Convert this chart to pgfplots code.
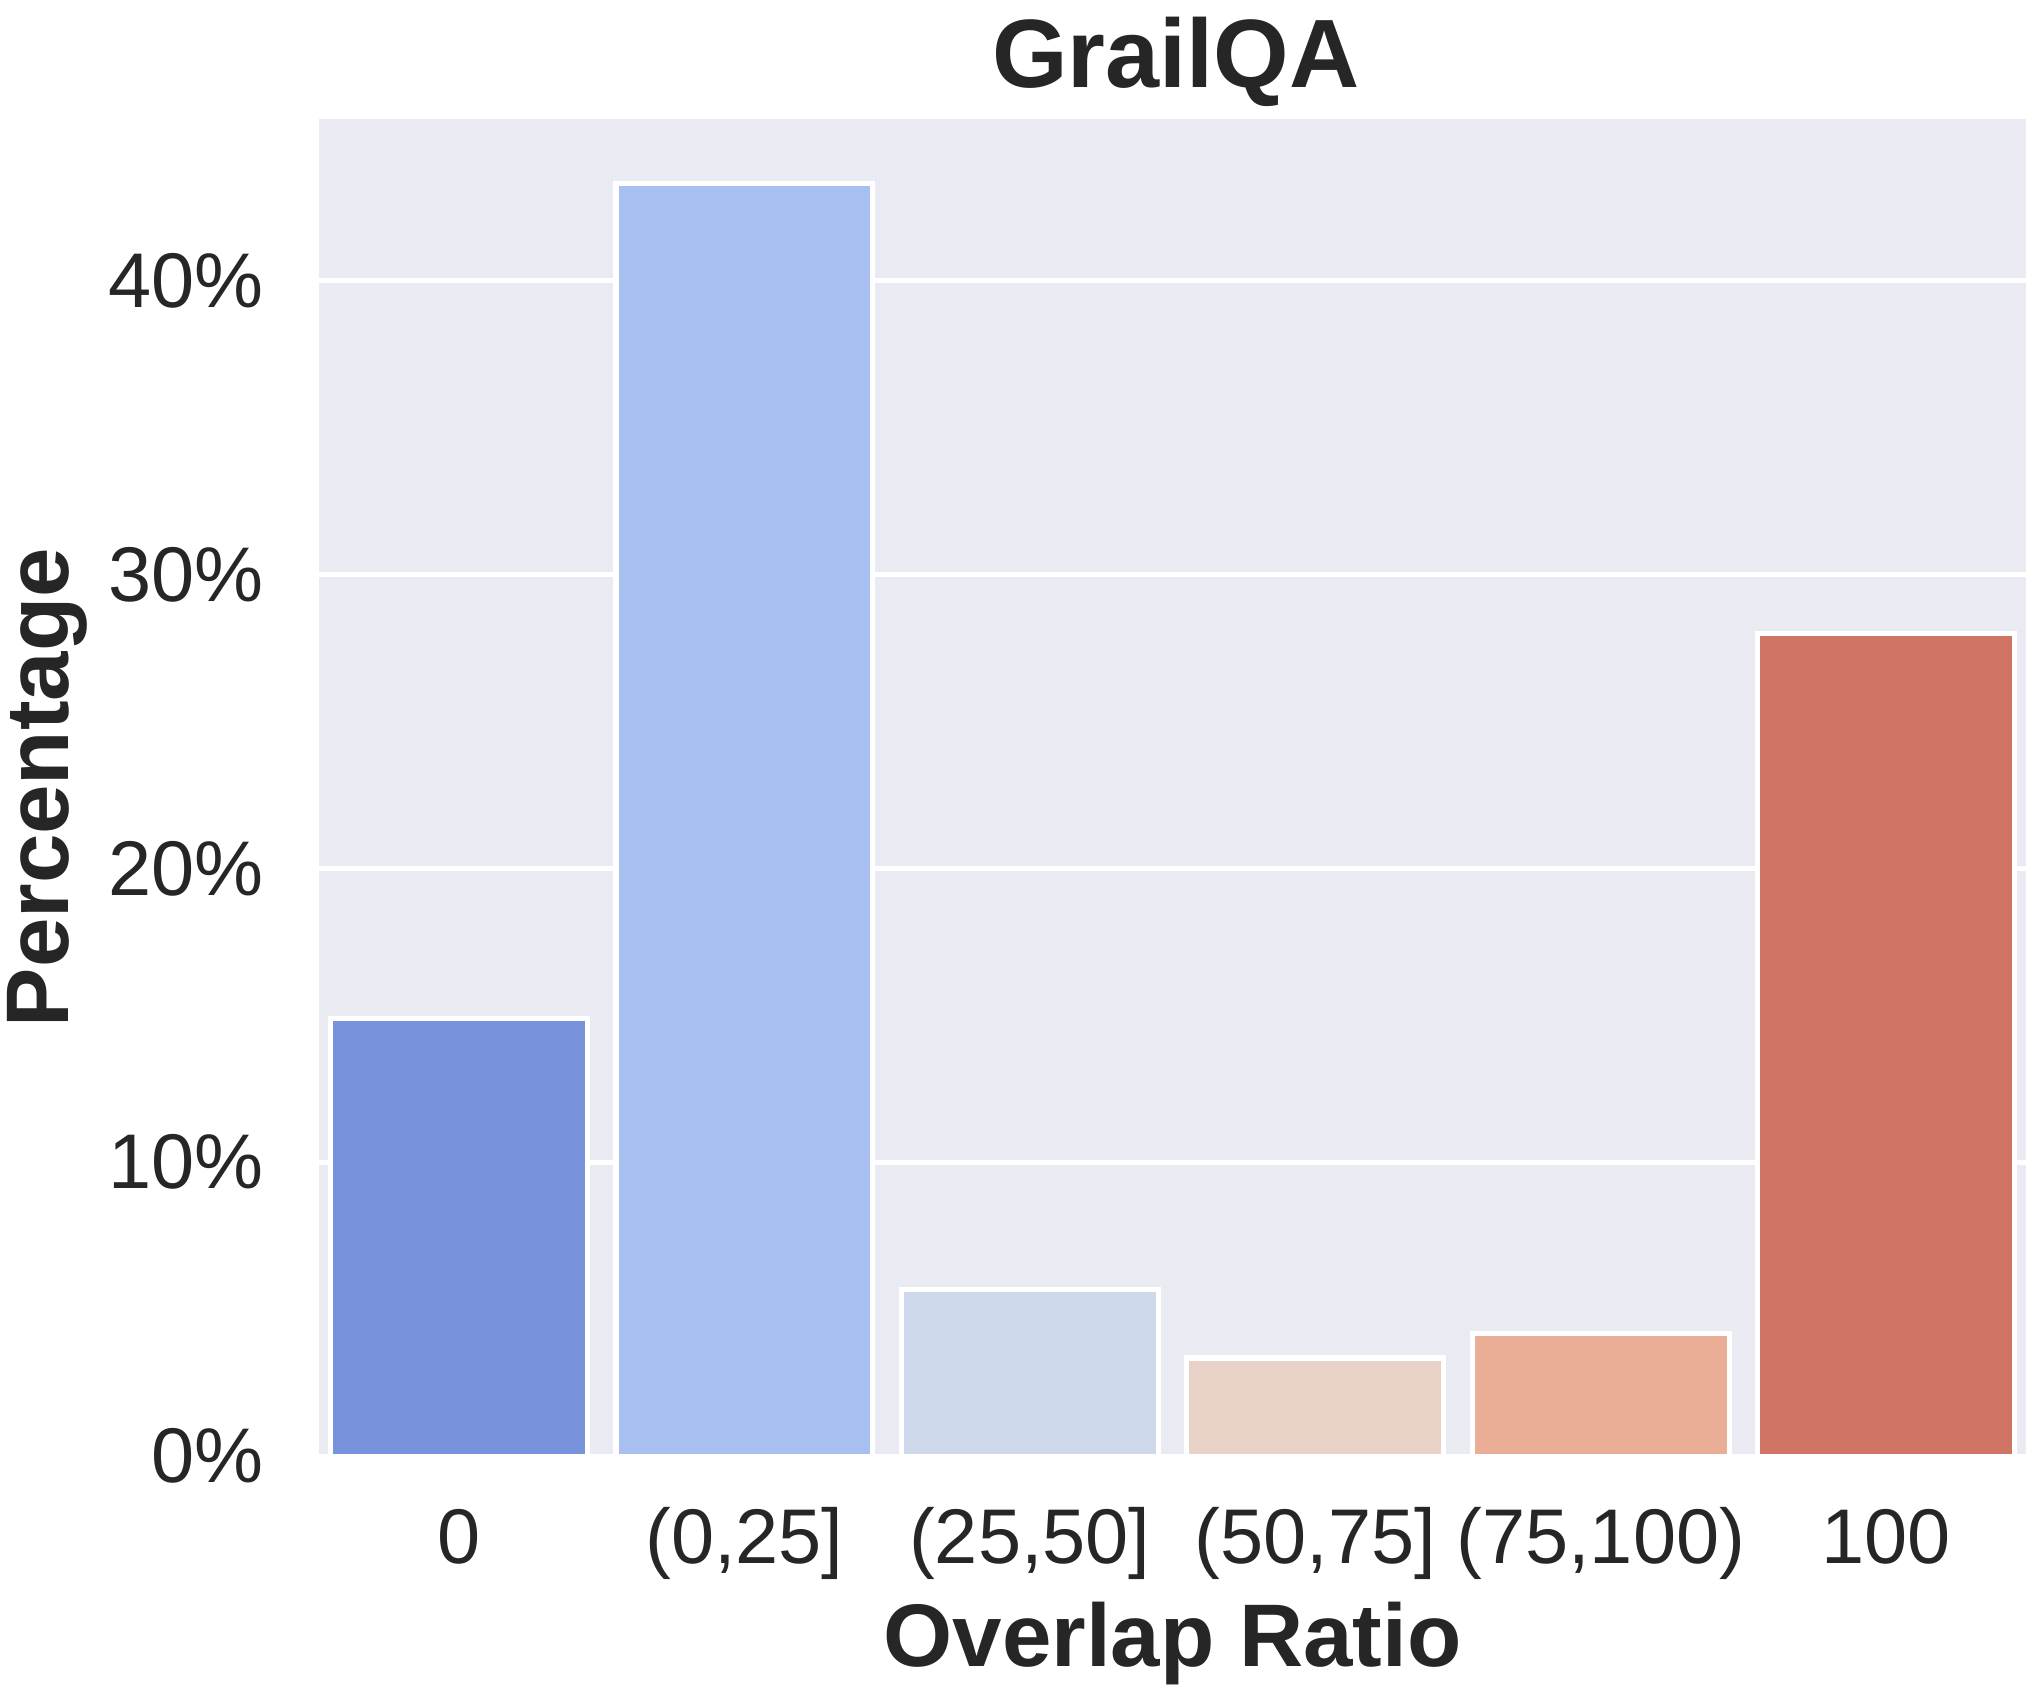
\documentclass[border=0pt]{standalone}
\usepackage{fontspec}
\setmainfont{Liberation Sans}
\usepackage{pgfplots}
\pgfplotsset{compat=1.18}
\definecolor{bgc}{RGB}{234,234,242}
\definecolor{txt}{RGB}{38,38,38}
\definecolor{c0}{RGB}{120,146,219}
\definecolor{c1}{RGB}{167,192,241}
\definecolor{c2}{RGB}{205,216,234}
\definecolor{c3}{RGB}{232,210,199}
\definecolor{c4}{RGB}{234,174,151}
\definecolor{c5}{RGB}{208,117,99}
\begin{document}
\begin{tikzpicture}
\begin{axis}[
  scale only axis,
  width=330.25pt, height=258.75pt,
  xmin=-0.49, xmax=5.49, ymin=0, ymax=45.5,
  axis background/.style={fill=bgc},
  axis line style={draw=none},
  major tick length=0pt,
  ymajorgrids, grid style={white, line width=1pt},
  ytick={0,10,20,30,40},
  yticklabels={0\%,10\%,20\%,30\%,40\%},
  xtick={0,1,2,3,4,5},
  xticklabels={0,{(0,25]},{(25,50]},{(50,75]},{(75,100)},100},
  yticklabel style={anchor=east, inner sep=0pt, xshift=-10.5pt, font=\fontsize{15}{18}\selectfont, text=txt},
  xticklabel style={anchor=base, inner sep=0pt, yshift=-20.75pt, font=\fontsize{15}{18}\selectfont, text=txt},
  xlabel={Overlap Ratio},
  ylabel={Percentage},
  xlabel style={at={(axis description cs:0.5,-0.1575)}, anchor=base, inner sep=0pt, font=\bfseries\fontsize{17.2}{20}\selectfont, text=txt},
  ylabel style={at={(axis description cs:-0.1832,0.5)}, rotate=0, anchor=north, inner sep=0pt, font=\bfseries\fontsize{17.2}{20}\selectfont, text=txt},
  ybar, bar width=0.9, bar shift=0pt,
  clip=true,
]
\addplot[fill=c0, draw=white, line width=1pt] coordinates {(0,14.9)};
\addplot[fill=c1, draw=white, line width=1pt] coordinates {(1,43.3)};
\addplot[fill=c2, draw=white, line width=1pt] coordinates {(2,5.67)};
\addplot[fill=c3, draw=white, line width=1pt] coordinates {(3,3.34)};
\addplot[fill=c4, draw=white, line width=1pt] coordinates {(4,4.18)};
\addplot[fill=c5, draw=white, line width=1pt] coordinates {(5,28.0)};
\coordinate (sw) at (rel axis cs:0,0);
\coordinate (ne) at (rel axis cs:1,1);
\coordinate (tt) at (rel axis cs:0.502,1.0232);
\end{axis}
\node[anchor=base, inner sep=0pt, font=\bfseries\fontsize{18.8}{22}\selectfont, text=txt] at (tt) {GrailQA};
\pgfresetboundingbox
\path ([xshift=-61.75pt,yshift=-45.5pt]sw) rectangle ([yshift=23pt]ne);
\end{tikzpicture}
\end{document}
